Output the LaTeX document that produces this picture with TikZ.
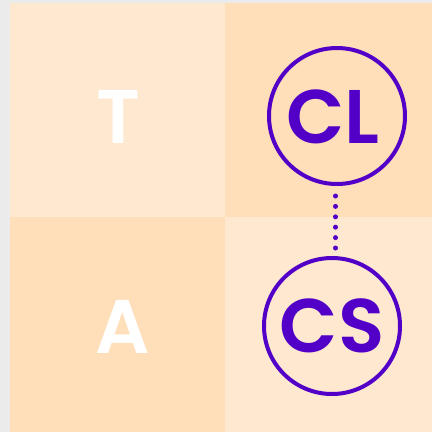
\documentclass[tikz,border=0pt]{standalone}
\usepackage{fontspec}
\setmainfont{Poppins}[BoldFont={* SemiBold}]
\definecolor{bggray}{RGB}{235,235,235}
\definecolor{lightpeach}{RGB}{254,233,208}
\definecolor{darkpeach}{RGB}{255,223,185}
\definecolor{purp}{RGB}{82,0,200}
\usetikzlibrary{calc}
\tikzset{
  letter/.style={font=\bfseries\fontsize{76}{76}\selectfont, inner sep=0pt, anchor=base},
  ring/.style={circle, draw=purp, line width=4pt, minimum size=136pt, inner sep=0pt},
  dotline/.style={purp, line width=5pt, line cap=round, dash pattern=on 0pt off 10.4pt}
}
\begin{document}
\begin{tikzpicture}[x=1pt,y=-1pt]
\useasboundingbox (0,0) rectangle (432,432);
\fill[bggray] (0,0) rectangle (432,432);
\fill[lightpeach] (10,3) rectangle (225,217);
\fill[darkpeach] (225,3) rectangle (432,217);
\fill[darkpeach] (10,217) rectangle (225,432);
\fill[lightpeach] (225,217) rectangle (432,432);
\node[letter, text=white] (t) at (118,143) {T};
\node[letter, text=white] (a) at (123,353) {A};
\node[ring] (cl) at (337,116) {};
\node[ring] (cs) at (332,326) {};
\node[letter, text=purp] (cltext) at (333,143) {CL};
\node[letter, text=purp] (cstext) at (332,352) {CS};
\draw[dotline, shorten <=10pt] ([xshift=-1.5pt]cl.south) -- ([xshift=3.5pt]cs.north);
\end{tikzpicture}
\end{document}
